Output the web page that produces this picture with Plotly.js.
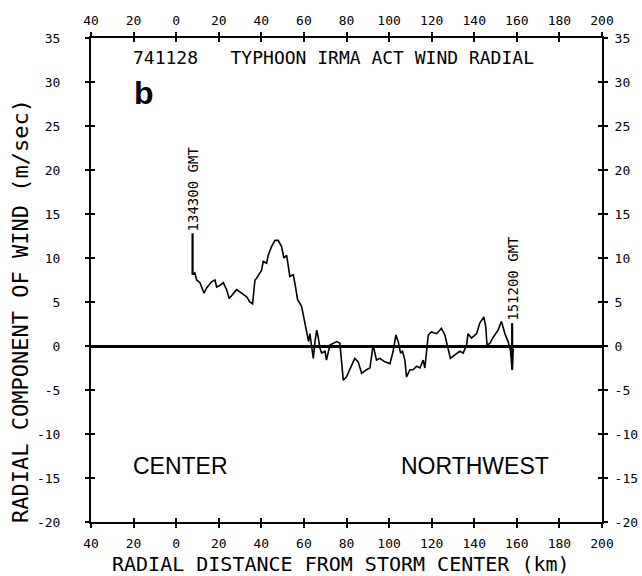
<!DOCTYPE html>
<html>
<head>
<meta charset="utf-8">
<script src="https://cdn.plot.ly/plotly-3.0.1.min.js"></script>
<style>
html,body{margin:0;padding:0;background:#fff;}
#chart{width:642px;height:576px;}
</style>
</head>
<body>
<div id="chart"></div>
<script>
// Radial distance from storm center (km) and radial wind component (m/sec)
var distKm = [7.7, 8.8, 9.6, 11.2, 13.1, 14.3, 16.6, 18.2, 19.0, 20.6, 22.1, 23.7, 24.9, 26.8, 28.4, 30.7, 33.1, 34.6, 35.9, 37.0, 37.8, 40.1, 40.9, 42.5, 43.2, 44.8, 46.4, 47.9, 49.5, 50.6, 51.9, 53.4, 55.0, 56.0, 57.0, 58.9, 60.2, 61.3, 62.2, 62.8, 63.6, 64.4, 65.2, 66.0, 66.7, 67.5, 68.3, 69.9, 70.6, 72.2, 75.4, 76.9, 78.5, 80.0, 82.4, 83.9, 85.5, 87.1, 89.4, 91.0, 92.5, 94.1, 95.7, 98.0, 100.4, 101.9, 103.2, 104.3, 105.4, 106.3, 107.4, 108.2, 109.8, 111.3, 112.9, 114.5, 116.0, 116.8, 118.4, 119.9, 122.3, 124.6, 126.2, 127.7, 128.8, 130.9, 133.2, 134.8, 136.4, 137.1, 138.7, 141.1, 142.6, 144.5, 145.4, 146.0, 147.3, 148.9, 151.2, 152.8, 154.4, 155.9, 157.0, 157.8, 158.3];
var radialWind = [8.1, 8.3, 7.5, 7.2, 6.0, 6.6, 7.3, 7.5, 6.7, 6.9, 7.2, 6.4, 5.4, 6.0, 6.4, 6.0, 5.6, 5.0, 4.8, 7.5, 7.7, 8.6, 9.6, 9.4, 10.3, 11.3, 12.0, 12.0, 11.3, 10.0, 10.3, 7.9, 8.1, 6.8, 5.3, 4.5, 3.0, 1.8, 0.5, 1.4, -0.2, -1.4, 0.5, 1.8, 1.0, -0.2, -0.8, -0.6, -1.6, 0.1, 0.5, 0.3, -3.9, -3.5, -2.2, -1.4, -1.8, -3.1, -2.7, -2.5, 0.1, -1.6, -1.4, -1.8, -2.0, -0.6, 1.25, 0.5, -0.8, -0.6, -1.6, -3.5, -2.7, -2.7, -2.3, -2.5, -1.6, -2.5, 1.25, 1.6, 1.4, 2.0, 1.25, -0.1, -1.4, -1.0, -0.6, -0.8, 0.1, 1.4, 0.9, 1.4, 2.6, 3.3, 2.2, 0.1, 0.3, 1.0, 1.8, 2.8, 1.4, 0.5, -0.5, -2.7, -0.3];

// Time marks (GMT) along the flight leg
var markLabels = ["134300 GMT", "151200 GMT"];
var markX = [7.7, 157.8];
var markYLow = [8.1, -2.7];
var markYHigh = [12.8, 2.6];

// Axis ticks
var xTickVals = [-40, -20, 0, 20, 40, 60, 80, 100, 120, 140, 160, 180, 200];
var xTickText = ["40", "20", "0", "20", "40", "60", "80", "100", "120", "140", "160", "180", "200"];
var yTickVals = [-20, -15, -10, -5, 0, 5, 10, 15, 20, 25, 30, 35];
var yTickText = ["-20", "-15", "-10", "-5", "0", "5", "10", "15", "20", "25", "30", "35"];

var mono = "DejaVu Sans Mono";
var traces = [
  {x: distKm, y: radialWind, type: "scatter", mode: "lines",
   line: {color: "#000", width: 1.6}, hoverinfo: "skip", showlegend: false}
];
for (var i = 0; i < markX.length; i++) {
  traces.push({x: [markX[i], markX[i]], y: [markYLow[i], markYHigh[i]], type: "scatter", mode: "lines",
    line: {color: "#000", width: 2.2}, hoverinfo: "skip", showlegend: false});
}
traces.push({x: [null], y: [null], xaxis: "x2", yaxis: "y2", type: "scatter", mode: "lines", showlegend: false, hoverinfo: "skip"});
traces.push({x: [null], y: [null], xaxis: "x3", yaxis: "y3", type: "scatter", mode: "lines", showlegend: false, hoverinfo: "skip"});

function pa(text, x, y, font, extra) {
  var a = {text: text, xref: "paper", yref: "paper", x: x, y: y, xanchor: "center", yanchor: "middle",
    showarrow: false, font: font};
  if (extra) for (var k in extra) a[k] = extra[k];
  return a;
}
var annotations = [
  pa("741128   TYPHOON IRMA ACT WIND RADIAL", 0.4736, 0.9587, {family: mono, size: 18, color: "#000"}),
  pa("<b>b</b>", 0.104, 0.886, {family: "Liberation Sans", size: 32, color: "#000"}),
  pa("CENTER", 0.176, 0.1157, {family: "Liberation Sans", size: 23, color: "#000"}),
  pa("NORTHWEST", 0.7515, 0.1157, {family: "Liberation Sans", size: 23, color: "#000"}),
  pa("RADIAL DISTANCE FROM STORM CENTER (km)", 0.49, -0.087, {family: mono, size: 20, color: "#000"}),
  pa("RADIAL COMPONENT OF WIND (m/sec)", -0.137, 0.436, {family: mono, size: 22, color: "#000"}, {textangle: -90})
];
for (var j = 0; j < markX.length; j++) {
  annotations.push({text: markLabels[j], x: markX[j], y: markYHigh[j], xref: "x", yref: "y",
    xanchor: "center", yanchor: "bottom", textangle: -90, showarrow: false,
    font: {family: mono, size: 14, color: "#000"}});
}

var axisCommon = {
  showline: true, linewidth: 2, linecolor: "#000", showgrid: false,
  ticks: "outside", ticklen: 4, tickwidth: 2, tickcolor: "#000",
  tickfont: {family: mono, size: 13, color: "#000"}
};
function ax(extra) { var o = {}; for (var k in axisCommon) o[k] = axisCommon[k]; for (var k2 in extra) o[k2] = extra[k2]; return o; }

var layout = {
  width: 642, height: 576,
  margin: {l: 91, r: 40, t: 38, b: 54, pad: 0},
  paper_bgcolor: "#fff", plot_bgcolor: "#fff",
  showlegend: false,
  xaxis: ax({range: [-40, 200], tickmode: "array", tickvals: xTickVals, ticktext: xTickText,
    zeroline: false, ticklabelstandoff: 4}),
  xaxis2: ax({range: [-40, 200], overlaying: "x", side: "top", anchor: "y", tickmode: "array",
    tickvals: xTickVals, ticktext: xTickText, zeroline: false, ticklabelstandoff: 2}),
  xaxis3: ax({range: [-40, 200], overlaying: "x", side: "bottom", anchor: "y", tickmode: "array",
    tickvals: xTickVals, ticks: "inside", showticklabels: false, mirror: "ticks", zeroline: false}),
  yaxis: ax({range: [-20, 35], tickmode: "array", tickvals: yTickVals, ticktext: yTickText,
    zeroline: true, zerolinewidth: 3, zerolinecolor: "#000", ticklabelstandoff: 22}),
  yaxis2: ax({range: [-20, 35], overlaying: "y", side: "right", anchor: "x", tickmode: "array",
    tickvals: yTickVals, ticktext: yTickText, zeroline: false, ticklabelstandoff: 4}),
  yaxis3: ax({range: [-20, 35], overlaying: "y", side: "left", anchor: "x", tickmode: "array",
    tickvals: yTickVals, ticks: "inside", showticklabels: false, mirror: "ticks", zeroline: false}),
  annotations: annotations
};

Plotly.newPlot("chart", traces, layout, {staticPlot: true, displayModeBar: false});
</script>
</body>
</html>
